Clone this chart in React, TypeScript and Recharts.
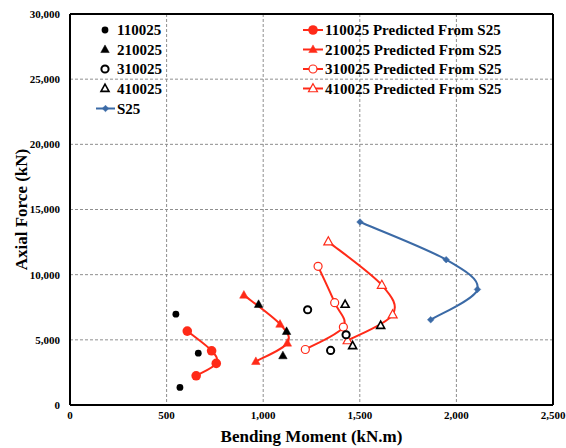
import React from 'react';
import { ScatterChart, Scatter, XAxis, YAxis, CartesianGrid, ReferenceLine } from 'recharts';

// ---------- data ----------
const xTicks = [0, 500, 1000, 1500, 2000, 2500];
const yTicks = [0, 5000, 10000, 15000, 20000, 25000, 30000];

const exp110025X = [548, 664, 569];
const exp110025Y = [6970, 3980, 1345];
const exp210025X = [976, 1121, 1102];
const exp210025Y = [7720, 5645, 3780];
const exp310025X = [1230, 1429, 1349];
const exp310025Y = [7310, 5390, 4190];
const exp410025X = [1424, 1608, 1463];
const exp410025Y = [7720, 6100, 4550];

const pred110025X = [607, 733, 757, 653];
const pred110025Y = [5670, 4160, 3190, 2240];
const pred210025X = [900, 1087, 1125, 962];
const pred210025Y = [8430, 6200, 4750, 3340];
const pred310025X = [1284, 1370, 1415, 1218];
const pred310025Y = [10640, 7850, 5980, 4260];
const pred410025X = [1337, 1614, 1670, 1437];
const pred410025Y = [12530, 9200, 6930, 4950];

const s25X = [1501, 1947, 2109, 1867];
const s25Y = [14040, 11150, 8870, 6540];

const leftLegend = ['110025', '210025', '310025', '410025', 'S25'];
const rightLegend = [
  '110025 Predicted From S25',
  '210025 Predicted From S25',
  '310025 Predicted From S25',
  '410025 Predicted From S25',
];

const xTitle = 'Bending Moment (kN.m)';
const yTitle = 'Axial Force (kN)';

// ---------- helpers ----------
const zip = (xs: number[], ys: number[]) => xs.map((x, i) => ({ x, y: ys[i] }));

const RED = '#FF2A18';
const BLUE = '#3B6AA6';
const FONT = '"Liberation Serif", "Times New Roman", serif';

// Excel-like smoothed line (Catmull-Rom as Bezier)
const excelSmooth = (context: any) => {
  let pts: [number, number][] = [];
  return {
    areaStart() {},
    areaEnd() {},
    lineStart() {
      pts = [];
    },
    lineEnd() {
      const n = pts.length;
      if (!n) return;
      context.moveTo(pts[0][0], pts[0][1]);
      for (let i = 0; i < n - 1; i++) {
        const p0 = pts[i - 1] || pts[i];
        const p1 = pts[i];
        const p2 = pts[i + 1];
        const p3 = pts[i + 2] || p2;
        context.bezierCurveTo(
          p1[0] + (p2[0] - p0[0]) / 6,
          p1[1] + (p2[1] - p0[1]) / 6,
          p2[0] - (p3[0] - p1[0]) / 6,
          p2[1] - (p3[1] - p1[1]) / 6,
          p2[0],
          p2[1]
        );
      }
    },
    point(x: number, y: number) {
      pts.push([+x, +y]);
    },
  };
};

type Mk = { kind: 'circle' | 'tri' | 'diamond'; size: number; fill: string; stroke: string; sw: number };

const markerEl = (m: Mk, cx: number, cy: number, key?: string) => {
  if (m.kind === 'circle') {
    return <circle key={key} cx={cx} cy={cy} r={m.size} fill={m.fill} stroke={m.stroke} strokeWidth={m.sw} />;
  }
  if (m.kind === 'tri') {
    const w = m.size;
    const h = m.size * 0.9;
    const d = `M${cx},${cy - h * 0.6}L${cx - w / 2},${cy + h * 0.4}L${cx + w / 2},${cy + h * 0.4}Z`;
    return <path key={key} d={d} fill={m.fill} stroke={m.stroke} strokeWidth={m.sw} strokeLinejoin="miter" />;
  }
  const s = m.size;
  const d = `M${cx},${cy - s}L${cx + s},${cy}L${cx},${cy + s}L${cx - s},${cy}Z`;
  return <path key={key} d={d} fill={m.fill} stroke={m.stroke} strokeWidth={m.sw} />;
};

const mk110: Mk = { kind: 'circle', size: 3.4, fill: '#000', stroke: '#000', sw: 0 };
const mk210: Mk = { kind: 'tri', size: 8.5, fill: '#000', stroke: '#000', sw: 0.5 };
const mk310: Mk = { kind: 'circle', size: 3.6, fill: '#fff', stroke: '#000', sw: 2 };
const mk410: Mk = { kind: 'tri', size: 8, fill: '#fff', stroke: '#000', sw: 1.6 };
const mkP110: Mk = { kind: 'circle', size: 4.8, fill: RED, stroke: RED, sw: 0 };
const mkP210: Mk = { kind: 'tri', size: 8.5, fill: RED, stroke: RED, sw: 0.5 };
const mkP310: Mk = { kind: 'circle', size: 4, fill: '#fff', stroke: RED, sw: 1.2 };
const mkP410: Mk = { kind: 'tri', size: 9, fill: '#fff', stroke: RED, sw: 1.2 };
const mkS25: Mk = { kind: 'diamond', size: 3.3, fill: BLUE, stroke: BLUE, sw: 0.5 };

const shapeOf = (m: Mk) => (props: any) => markerEl(m, props.cx, props.cy);

const fmt = (v: number) => v.toLocaleString('en-US');

const tickStyle = { fill: '#000', fontSize: 11, fontWeight: 'bold', fontFamily: FONT };

export default function App() {
  const leftMk = [mk110, mk210, mk310, mk410];
  const rightMk = [mkP110, mkP210, mkP310, mkP410];
  const rowY = [30, 49.5, 69, 88.5, 108.5];
  return (
    <div style={{ position: 'absolute', left: 0, top: 0, width: 566, height: 448, background: '#fff' }}>
      <ScatterChart width={566} height={448} margin={{ top: 14, right: 13, bottom: 13, left: 10 }}>
        <CartesianGrid strokeDasharray="3 2" stroke="#8f8f8f" strokeWidth={1} />
        <XAxis
          type="number"
          dataKey="x"
          domain={[0, 2500]}
          ticks={xTicks}
          tickFormatter={fmt}
          axisLine={{ stroke: '#000', strokeWidth: 2 }}
          tickLine={false}
          tickSize={0}
          tickMargin={6}
          tick={tickStyle}
          height={30}
          allowDataOverflow
          interval={0}
        />
        <YAxis
          type="number"
          dataKey="y"
          domain={[0, 30000]}
          ticks={yTicks}
          tickFormatter={fmt}
          axisLine={{ stroke: '#000', strokeWidth: 2 }}
          tickLine={false}
          tickSize={0}
          tickMargin={10}
          tick={tickStyle}
          width={60}
          allowDataOverflow
          interval={0}
        />
        <ReferenceLine y={30000} stroke="#000" strokeWidth={2} />
        <ReferenceLine x={2500} stroke="#000" strokeWidth={2} />
        <Scatter
          data={zip(s25X, s25Y)}
          line={{ stroke: BLUE, strokeWidth: 2 }}
          lineType="joint"
          lineJointType={excelSmooth as any}
          shape={shapeOf(mkS25)}
          isAnimationActive={false}
        />
        <Scatter
          data={zip(pred110025X, pred110025Y)}
          line={{ stroke: RED, strokeWidth: 2 }}
          lineType="joint"
          lineJointType={excelSmooth as any}
          shape={shapeOf(mkP110)}
          isAnimationActive={false}
        />
        <Scatter
          data={zip(pred210025X, pred210025Y)}
          line={{ stroke: RED, strokeWidth: 2 }}
          lineType="joint"
          lineJointType={excelSmooth as any}
          shape={shapeOf(mkP210)}
          isAnimationActive={false}
        />
        <Scatter
          data={zip(pred310025X, pred310025Y)}
          line={{ stroke: RED, strokeWidth: 2 }}
          lineType="joint"
          lineJointType={excelSmooth as any}
          shape={shapeOf(mkP310)}
          isAnimationActive={false}
        />
        <Scatter
          data={zip(pred410025X, pred410025Y)}
          line={{ stroke: RED, strokeWidth: 2 }}
          lineType="joint"
          lineJointType={excelSmooth as any}
          shape={shapeOf(mkP410)}
          isAnimationActive={false}
        />
        <Scatter data={zip(exp110025X, exp110025Y)} shape={shapeOf(mk110)} isAnimationActive={false} />
        <Scatter data={zip(exp210025X, exp210025Y)} shape={shapeOf(mk210)} isAnimationActive={false} />
        <Scatter data={zip(exp310025X, exp310025Y)} shape={shapeOf(mk310)} isAnimationActive={false} />
        <Scatter data={zip(exp410025X, exp410025Y)} shape={shapeOf(mk410)} isAnimationActive={false} />
      </ScatterChart>
      <svg
        width={566}
        height={448}
        style={{ position: 'absolute', left: 0, top: 0, pointerEvents: 'none' }}
      >
        {leftLegend.map((name, i) => (
          <g key={name}>
            {i < 4 ? (
              markerEl(leftMk[i], 105, rowY[i])
            ) : (
              <>
                <line x1={96} x2={115} y1={rowY[i]} y2={rowY[i]} stroke={BLUE} strokeWidth={2} />
                {markerEl(mkS25, 105.5, rowY[i])}
              </>
            )}
            <text x={117} y={rowY[i] + 5} fontFamily={FONT} fontWeight="bold" fontSize={15} fill="#000">
              {name}
            </text>
          </g>
        ))}
        {rightLegend.map((name, i) => (
          <g key={name}>
            <line x1={303} x2={323} y1={rowY[i]} y2={rowY[i]} stroke={RED} strokeWidth={2} />
            {markerEl(rightMk[i], 313, rowY[i])}
            <text x={325} y={rowY[i] + 5} fontFamily={FONT} fontWeight="bold" fontSize={15} fill="#000">
              {name}
            </text>
          </g>
        ))}
        <text
          x={311.5}
          y={442}
          textAnchor="middle"
          fontFamily={FONT}
          fontWeight="bold"
          fontSize={17}
          fill="#000"
        >
          {xTitle}
        </text>
        <text
          transform="translate(27,209.5) rotate(-90)"
          textAnchor="middle"
          fontFamily={FONT}
          fontWeight="bold"
          fontSize={17}
          fill="#000"
        >
          {yTitle}
        </text>
      </svg>
    </div>
  );
}
